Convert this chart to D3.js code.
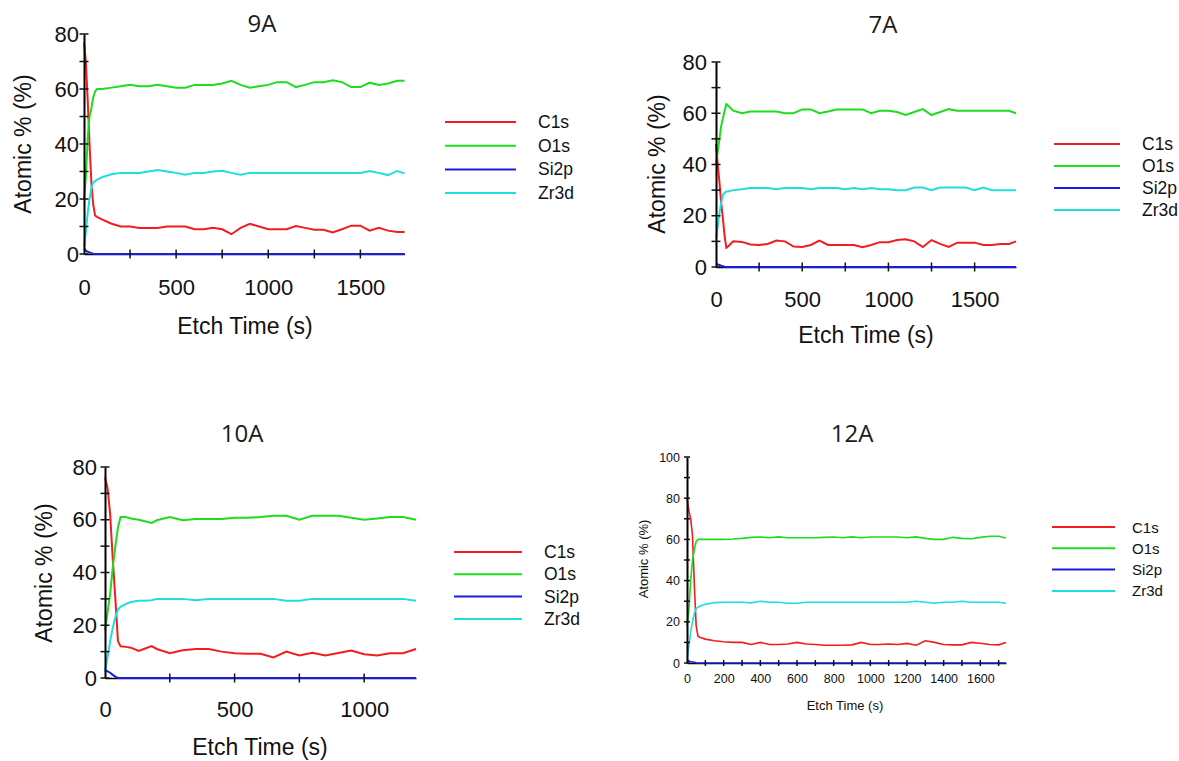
<!DOCTYPE html>
<html>
<head>
<meta charset="utf-8">
<script src="https://cdn.jsdelivr.net/npm/d3@7"></script>
<style>
  body { margin: 0; background: #fff; }
  svg text { font-family: "Liberation Sans", Arial, sans-serif; fill: #111; }
  svg text.title { font-family: "Open Sans", sans-serif; fill: #1a1a1a; }
</style>
</head>
<body>
<script>
// series names + colours shared by all four depth profiles
const seriesNames = ['C1s', 'O1s', 'Si2p', 'Zr3d'];
const seriesColors = ['#f21d1d', '#1edc1e', '#1c1ce0', '#1edede'];

// etch times (s)
const timesLong = [0, 10, 20, 30, 40, 50, 60, 70, 100, 150, 200, 250, 300, 350, 400, 450, 500, 550, 600, 650, 700,
  750, 800, 850, 900, 950, 1000, 1050, 1100, 1150, 1200, 1250, 1300, 1350, 1400, 1450, 1500, 1550, 1600, 1650, 1700, 1740];
const times10A = [0, 10, 20, 30, 40, 50, 60, 80, 100, 130, 150, 180, 200, 250, 300, 350, 400, 450, 500, 550, 600,
  650, 700, 750, 800, 850, 900, 950, 1000, 1050, 1100, 1150, 1200];

// 9A
const c1s9A = [77, 70, 56, 40, 26, 18, 14, 13.5, 12.5, 11, 10, 10, 9.5, 9.5, 9.5, 10, 10, 10, 9, 9, 9.5,
  9, 7.2, 9.5, 11, 10, 9, 9, 9, 10.2, 9.5, 8.8, 8.8, 7.8, 9, 10.3, 10.3, 8.5, 9.5, 8.5, 8, 8];
const o1s9A = [20, 28, 42, 50, 53, 57, 59, 60, 60, 60.5, 61, 61.5, 61, 61, 61.5, 61, 60.5, 60.5, 61.5, 61.5, 61.5,
  62, 63, 61.5, 60.5, 61, 61.5, 62.5, 62.5, 60.7, 61.5, 62.5, 62.5, 63.2, 62.5, 60.7, 60.7, 62.3, 61.5, 62, 63, 63];
const si2p9A = [2, 1.2, 0.8, 0.6, 0.3, 0.1, 0, 0, 0, 0, 0, 0, 0, 0, 0, 0, 0, 0, 0, 0, 0,
  0, 0, 0, 0, 0, 0, 0, 0, 0, 0, 0, 0, 0, 0, 0, 0, 0, 0, 0, 0, 0];
const zr3d9A = [2.5, 8, 15, 20, 24, 26, 26.5, 27, 28, 29, 29.5, 29.5, 29.5, 30, 30.5, 30, 29.5, 28.8, 29.5, 29.5, 30,
  30.3, 29.5, 28.8, 29.5, 29.5, 29.5, 29.5, 29.5, 29.5, 29.5, 29.5, 29.5, 29.5, 29.5, 29.5, 29.5, 30.2, 29.5, 28.7, 30.2, 29.3];

// 7A
const c1s7A = [48, 40, 33, 25, 19, 12, 7.5, 8, 10, 9.8, 8.8, 8.6, 9, 10.3, 10, 8, 7.8, 8.6, 10.3, 8.6, 8.6,
  8.6, 8.6, 7.7, 8.6, 9.7, 9.7, 10.5, 10.8, 10, 7.8, 10.5, 9, 7.8, 9.5, 9.5, 9.5, 8.6, 8.6, 9, 9, 10];
const o1s7A = [40, 45, 50, 55, 58, 61, 63.5, 63, 61, 60, 60.7, 60.7, 60.7, 60.7, 60, 60, 61.5, 61.5, 60, 60.7, 61.5,
  61.5, 61.5, 61.5, 60, 61, 61, 60.5, 59.3, 60.5, 61.6, 59.3, 60.5, 61.6, 61, 61, 61, 61, 61, 61, 61, 60];
const si2p7A = [1.5, 1, 0.8, 0.5, 0.3, 0.1, 0, 0, 0, 0, 0, 0, 0, 0, 0, 0, 0, 0, 0, 0, 0,
  0, 0, 0, 0, 0, 0, 0, 0, 0, 0, 0, 0, 0, 0, 0, 0, 0, 0, 0, 0, 0];
const zr3d7A = [11, 16, 21, 25, 28, 29, 29.5, 29.5, 30, 30.3, 30.8, 30.8, 30.8, 30.3, 30.8, 30.8, 30.8, 30.3, 30.8, 30.8, 30.8,
  30.3, 30.8, 30.3, 30.8, 30.3, 30.3, 30, 30, 31, 31, 30, 31, 31, 31, 31, 30, 31, 30, 30, 30, 30];

// 10A
const c1s10A = [76, 72, 62, 45, 30, 14, 12, 11.8, 11.5, 10.3, 11, 12.1, 11, 9.4, 10.5, 11, 11, 10, 9.4, 9.2, 9.2,
  7.8, 10, 8.5, 9.6, 8.5, 9.5, 10.4, 9, 8.5, 9.4, 9.4, 11];
const o1s10A = [18, 25, 32, 42, 50, 57, 61, 61, 60.5, 60, 59.5, 58.8, 59.8, 61, 59.8, 60.3, 60.3, 60.3, 60.8, 60.8, 61,
  61.5, 61.5, 60, 61.5, 61.5, 61.5, 60.8, 60, 60.5, 61, 61, 60];
const si2p10A = [3, 2.5, 2, 1.2, 0.5, 0, 0, 0, 0, 0, 0, 0, 0, 0, 0, 0, 0, 0, 0, 0, 0,
  0, 0, 0, 0, 0, 0, 0, 0, 0, 0, 0, 0];
const zr3d10A = [2.5, 8, 14, 19, 23, 26, 27, 28, 28.8, 29.3, 29.3, 29.5, 30, 30, 30, 29.5, 30, 30, 30, 30, 30,
  30, 29.3, 29.3, 30, 30, 30, 30, 30, 30, 30, 30, 29.3];

// 12A
const c1s12A = [80, 74, 70, 62, 38, 18, 13, 12.5, 11.6, 10.8, 10.3, 10, 10, 9, 10, 9, 9, 9.2, 10, 9.2, 9,
  8.6, 8.6, 8.6, 8.8, 10, 9, 9, 9.2, 9, 9.5, 8.6, 10.8, 10, 9, 8.8, 8.8, 10, 9.6, 9, 8.8, 10];
const o1s12A = [18, 25, 40, 50, 55, 59, 60, 60, 60, 60, 60, 60.2, 60.5, 61, 61.2, 60.8, 61.2, 60.8, 60.8, 60.8, 60.8,
  61, 61.2, 60.8, 61.2, 60.8, 61.2, 61.2, 61.2, 61.2, 60.8, 61.2, 60.5, 60, 60, 61, 60.5, 60.3, 61, 61.5, 61.5, 60.7];
const si2p12A = [1.5, 1, 0.7, 0.5, 0.3, 0.1, 0, 0, 0, 0, 0, 0, 0, 0, 0, 0, 0, 0, 0, 0, 0,
  0, 0, 0, 0, 0, 0, 0, 0, 0, 0, 0, 0, 0, 0, 0, 0, 0, 0, 0, 0, 0];
const zr3d12A = [2, 8, 15, 20, 24, 26.5, 27, 27.5, 28.5, 29.3, 29.5, 29.5, 29.5, 29.2, 30, 29.5, 29.5, 29, 29, 29.5, 29.5,
  29.5, 29.5, 29.5, 29.5, 29.5, 29.5, 29.5, 29.5, 29.5, 29.5, 30, 29.5, 29, 29.5, 29.5, 30, 29.5, 29.5, 29.5, 29.5, 29];

// tick values
const xTicks250 = [0, 250, 500, 750, 1000, 1250, 1500];
const xTicks100 = [0, 100, 200, 300, 400, 500, 600, 700, 800, 900, 1000, 1100, 1200, 1300, 1400, 1500, 1600, 1700];
const yTicks80 = [0, 10, 20, 30, 40, 50, 60, 70, 80];
const yTicks100 = [0, 10, 20, 30, 40, 50, 60, 70, 80, 90, 100];

const panels = [
  { title: '9A', t: timesLong, data: [c1s9A, o1s9A, si2p9A, zr3d9A], xMax: 1740, yMax: 80,
    xTicks: xTicks250, xStep: 500, yTicks: yTicks80,
    x0: 84, x1: 404.6, y0: 254, y1: 34, titleAt: [262, 32], yLabAt: [23, 144], xLabAt: [245, 334],
    font: 22, labFont: 23, xLabOff: 41, yPad: 5, cross: 4.5, lw: 2,
    legend: { x0: 445, x1: 516, y: 122, dy: 23.7, tx: 538, font: 17.5 } },
  { title: '7A', t: timesLong, data: [c1s7A, o1s7A, si2p7A, zr3d7A], xMax: 1740, yMax: 80,
    xTicks: xTicks250, xStep: 500, yTicks: yTicks80,
    x0: 716, x1: 1016, y0: 267, y1: 62, titleAt: [883, 33], yLabAt: [657, 164], xLabAt: [866, 343],
    font: 22, labFont: 23, xLabOff: 40, yPad: 9, cross: 4.5, lw: 2,
    legend: { x0: 1054, x1: 1120, y: 144, dy: 22, tx: 1142, font: 17.5 } },
  { title: '10A', t: times10A, data: [c1s10A, o1s10A, si2p10A, zr3d10A], xMax: 1200, yMax: 80,
    xTicks: [0, 250, 500, 750, 1000], xStep: 500, yTicks: yTicks80,
    x0: 105, x1: 416, y0: 678, y1: 467, titleAt: [242, 442], yLabAt: [44, 573], xLabAt: [260, 755],
    font: 22, labFont: 23, xLabOff: 39, yPad: 8, cross: 4.5, lw: 2,
    legend: { x0: 454, x1: 522, y: 552, dy: 22.3, tx: 544, font: 17.5 } },
  { title: '12A', t: timesLong, data: [c1s12A, o1s12A, si2p12A, zr3d12A], xMax: 1740, yMax: 100,
    xTicks: xTicks100, xStep: 200, yTicks: yTicks100,
    x0: 687, x1: 1006, y0: 663, y1: 457, titleAt: [852, 442], yLabAt: [643, 559], xLabAt: [845, 710],
    font: 12.5, labFont: 13, xLabOff: 20, yPad: 7, cross: 3, lw: 1.6,
    legend: { x0: 1052, x1: 1115, y: 527, dy: 21.3, tx: 1132, font: 15 } }
];

const svg = d3.select('body').append('svg').attr('width', 1179).attr('height', 761);

panels.forEach((p) => {
  const x = d3.scaleLinear().domain([0, p.xMax]).range([p.x0, p.x1]);
  const y = d3.scaleLinear().domain([0, p.yMax]).range([p.y0, p.y1]);
  const g = svg.append('g');

  // x axis: base line and labels under the data
  const xg = g.append('g')
    .attr('transform', `translate(0, ${p.y0})`)
    .call(d3.axisBottom(x).tickValues(p.xTicks).tickSize(0).tickSizeOuter(0)
      .tickFormat(d => (d % p.xStep ? '' : d)));
  xg.attr('font-size', p.font).attr('font-family', null);
  xg.select('.domain').attr('stroke', '#000').attr('stroke-width', 1.5);
  xg.selectAll('text').attr('y', p.xLabOff).attr('dy', 0);

  const line = d3.line().x((d, i) => x(p.t[i])).y(d => y(d));
  p.data.forEach((vals, k) => {
    g.append('path')
      .datum(vals)
      .attr('fill', 'none')
      .attr('stroke', seriesColors[k])
      .attr('stroke-width', p.lw)
      .attr('d', line);
  });

  // cross ticks on x, drawn over the lines
  g.append('g').selectAll('line')
    .data(p.xTicks.filter(d => d > 0))
    .join('line')
    .attr('x1', d => x(d)).attr('x2', d => x(d))
    .attr('y1', p.y0 - p.cross).attr('y2', p.y0 + p.cross)
    .attr('stroke', '#111').attr('stroke-width', 1.5);

  // y axis
  const yg = g.append('g')
    .attr('transform', `translate(${p.x0}, 0)`)
    .call(d3.axisLeft(y).tickValues(p.yTicks).tickSize(0).tickSizeOuter(0).tickPadding(p.yPad)
      .tickFormat(d => (d % 20 ? '' : d)));
  yg.attr('font-size', p.font).attr('font-family', null);
  yg.select('.domain').attr('stroke', '#000').attr('stroke-width', 2);
  g.append('g').selectAll('line')
    .data(p.yTicks)
    .join('line')
    .attr('x1', p.x0 - p.cross).attr('x2', p.x0 + p.cross)
    .attr('y1', d => y(d)).attr('y2', d => y(d))
    .attr('stroke', '#111').attr('stroke-width', 1.5);

  // titles
  g.append('text').attr('class', 'title')
    .attr('x', p.titleAt[0]).attr('y', p.titleAt[1])
    .attr('text-anchor', 'middle').attr('font-size', 24)
    .text(p.title);
  g.append('text')
    .attr('transform', `translate(${p.yLabAt[0]}, ${p.yLabAt[1]}) rotate(-90)`)
    .attr('text-anchor', 'middle').attr('dominant-baseline', 'central')
    .attr('font-size', p.labFont)
    .text('Atomic % (%)');
  g.append('text')
    .attr('x', p.xLabAt[0]).attr('y', p.xLabAt[1])
    .attr('text-anchor', 'middle')
    .attr('font-size', p.labFont)
    .text('Etch Time (s)');

  // legend
  const lg = p.legend;
  seriesNames.forEach((name, k) => {
    const ly = lg.y + k * lg.dy;
    g.append('line')
      .attr('x1', lg.x0).attr('x2', lg.x1).attr('y1', ly).attr('y2', ly)
      .attr('stroke', seriesColors[k]).attr('stroke-width', 2);
    g.append('text')
      .attr('x', lg.tx).attr('y', ly)
      .attr('dominant-baseline', 'central')
      .attr('font-size', lg.font)
      .text(name);
  });
});
</script>
</body>
</html>
